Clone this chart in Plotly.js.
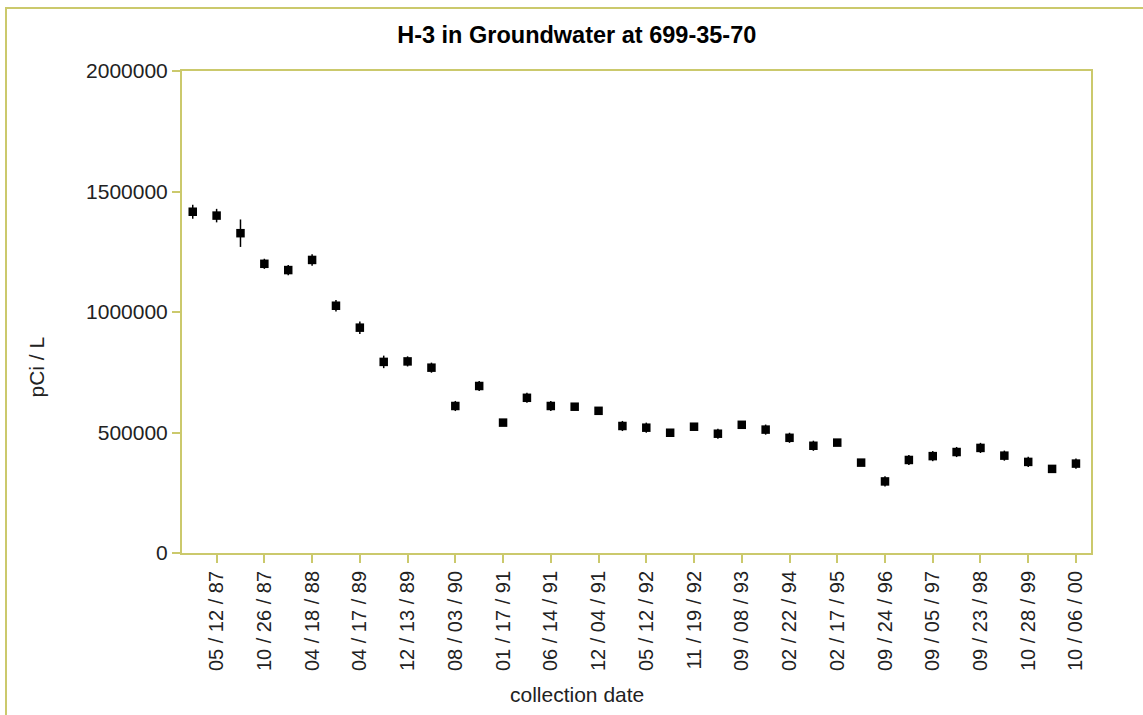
<!DOCTYPE html>
<html>
<head>
<meta charset="utf-8">
<script src="https://cdn.plot.ly/plotly-3.0.1.min.js"></script>
<style>
  html, body { margin: 0; padding: 0; background: #fff; }
  #wrap { position: relative; width: 1143px; height: 715px; overflow: hidden; }
  #chart { position: absolute; left: 0; top: 0; width: 1143px; height: 715px; }
  #frame { position: absolute; left: 5px; top: 7px; width: 1200px; height: 800px;
           border-left: 2px solid #cbc96c; border-top: 2px solid #cbc96c; pointer-events: none; }
</style>
</head>
<body>
<div id="wrap">
  <div id="chart"></div>
  <div id="frame"></div>
</div>
<script>
// Sample index (categorical position along the x axis)
const sampleIndex = [0,1,2,3,4,5,6,7,8,9,10,11,12,13,14,15,16,17,18,19,20,21,22,23,24,25,26,27,28,29,30,31,32,33,34,35,36,37];

// H-3 concentration, pCi/L
const h3Values = [1416000,1400000,1327000,1200000,1174000,1216000,1026000,935000,793000,795000,
                  769000,610000,693000,541000,644000,610000,607000,590000,527000,520000,
                  499000,524000,495000,532000,512000,478000,445000,458000,375000,297000,
                  386000,402000,419000,436000,404000,378000,349000,371000];

// Counting uncertainty (pCi/L)
const h3Errors = [29000,28000,57000,21000,21000,24000,24000,26000,26000,21000,
                  21000,21000,21000,0,21000,21000,0,0,21000,21000,
                  0,0,21000,0,21000,21000,21000,0,0,21000,
                  21000,21000,21000,21000,21000,21000,0,21000];

// Labelled collection dates (every other sample)
const tickPositions = [1,3,5,7,9,11,13,15,17,19,21,23,25,27,29,31,33,35,37];
const tickLabels = ["05 / 12 / 87","10 / 26 / 87","04 / 18 / 88","04 / 17 / 89","12 / 13 / 89",
                    "08 / 03 / 90","01 / 17 / 91","06 / 14 / 91","12 / 04 / 91","05 / 12 / 92",
                    "11 / 19 / 92","09 / 08 / 93","02 / 22 / 94","02 / 17 / 95","09 / 24 / 96",
                    "09 / 05 / 97","09 / 23 / 98","10 / 28 / 99","10 / 06 / 00"];

const yTicks = [0, 500000, 1000000, 1500000, 2000000];

const axisColor = '#cbc96c';
const textColor = '#222';
const fontFam = 'Arial, "Liberation Sans", sans-serif';

const trace = {
  x: sampleIndex,
  y: h3Values,
  type: 'scatter',
  mode: 'markers',
  marker: { symbol: 'square', size: 8.5, color: '#000' },
  error_y: { type: 'data', array: h3Errors, visible: true, color: '#000', thickness: 1.5, width: 0 },
  hoverinfo: 'x+y'
};

const layout = {
  width: 1143,
  height: 715,
  margin: { l: 182, r: 52, t: 71, b: 162 },
  paper_bgcolor: 'rgba(0,0,0,0)',
  plot_bgcolor: '#fff',
  showlegend: false,
  font: { family: fontFam, color: textColor },
  title: {
    text: 'H-3 in Groundwater at 699-35-70',
    font: { family: fontFam, size: 23.5, color: '#000', weight: 'bold' },
    xref: 'container', x: 0.5046, xanchor: 'center',
    yref: 'container', y: 0.952, yanchor: 'middle'
  },
  xaxis: {
    range: [-0.45, 37.63],
    tickmode: 'array',
    tickvals: tickPositions,
    ticktext: tickLabels,
    tickangle: -90,
    tickfont: { family: fontFam, size: 20, color: textColor },
    ticks: 'outside', ticklen: 8, tickwidth: 2, tickcolor: axisColor,
    showline: true, linecolor: axisColor, linewidth: 2, mirror: true,
    showgrid: false, zeroline: false
  },
  yaxis: {
    range: [0, 2000000],
    tickmode: 'array',
    tickvals: yTicks,
    ticktext: yTicks.map(v => String(v)),
    tickfont: { family: fontFam, size: 21, color: textColor },
    ticks: 'outside', ticklen: 8, tickwidth: 2, tickcolor: axisColor,
    showline: true, linecolor: axisColor, linewidth: 2, mirror: true,
    showgrid: false, zeroline: false
  },
  annotations: [
    {
      text: 'pCi / L', xref: 'paper', yref: 'paper',
      x: -0.160, y: 0.386, xanchor: 'center', yanchor: 'middle',
      textangle: -90, showarrow: false,
      font: { family: fontFam, size: 21, color: textColor }
    },
    {
      text: 'collection date', xref: 'paper', yref: 'paper',
      x: 0.435, y: -0.2946, xanchor: 'center', yanchor: 'middle',
      showarrow: false,
      font: { family: fontFam, size: 21, color: textColor }
    }
  ]
};

Plotly.newPlot('chart', [trace], layout, { displayModeBar: false, staticPlot: true });
</script>
</body>
</html>
